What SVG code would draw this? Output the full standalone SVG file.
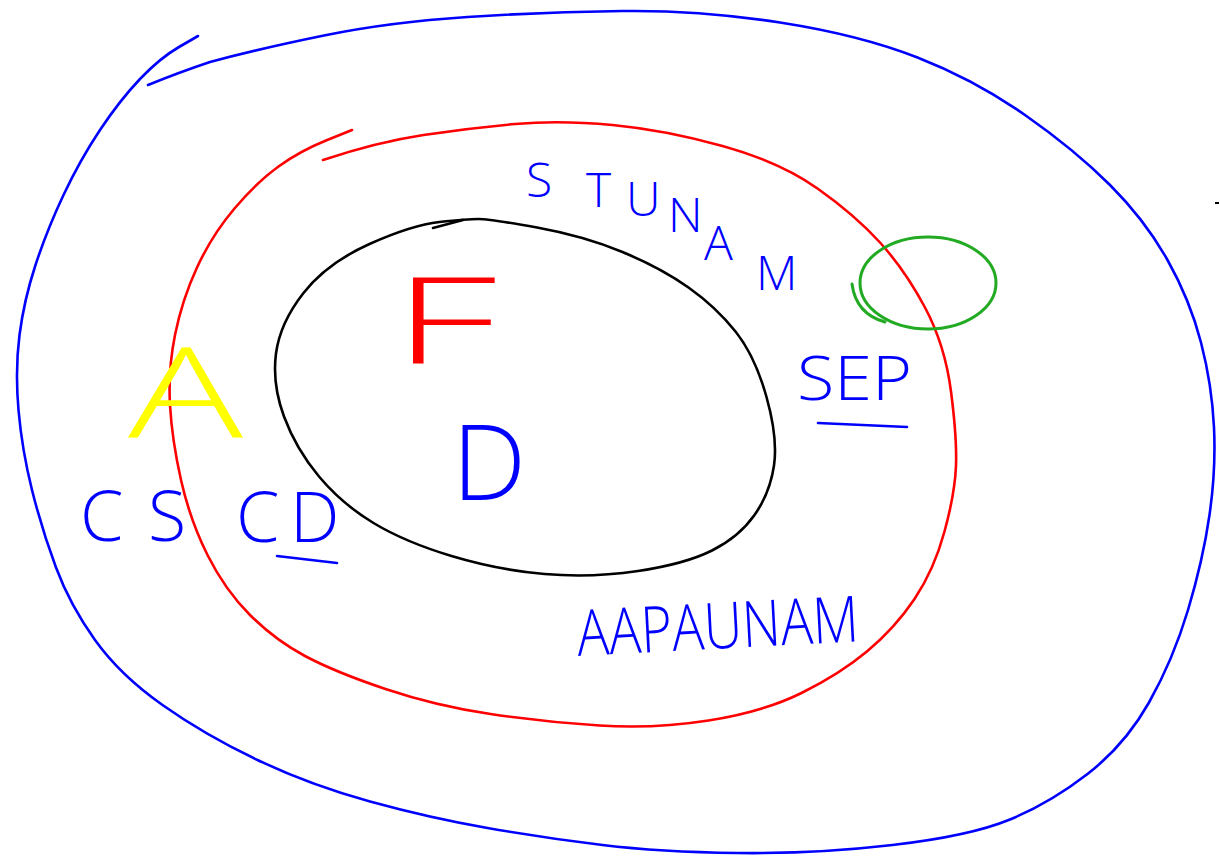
<svg xmlns="http://www.w3.org/2000/svg" width="1220" height="859" viewBox="0 0 1220 859">
<style>
.s{fill:none;stroke-linecap:round;stroke-linejoin:round;stroke-width:2.6}
.b{stroke:#0000ff}.r{stroke:#ff0000}.k{stroke:#000}.g{stroke:#22aa22;stroke-width:3}
.t{font-family:"Open Sans","Liberation Sans",Arial,sans-serif;font-weight:300}
.tb{fill:#0000ff}
</style>
<rect width="1220" height="859" fill="#fff"/>
<g id="outer-blue">
<path class="s b" d="M198,36 L179,47 Q160,58 140,79 Q120,100 100,130 Q80,160 63.5,195 Q47,230 35.5,265 Q24,300 19.5,335 Q15,370 18.5,410 Q22,450 32,490 Q42,530 56,567.5 Q70,605 95,640 Q120,675 162.5,705 Q205,735 257.5,760 Q310,785 370,801.5 Q430,818 487.5,828 Q545,838 602.5,845 Q660,852 737.5,853 Q815,854 892.5,845 Q970,836 1010,819.5 Q1050,803 1087.5,774 Q1125,745 1149,702.5 Q1173,660 1188,610 Q1203,560 1209.5,515 Q1216,470 1214,427.5 Q1212,385 1201,342.5 Q1190,300 1167.5,260 Q1145,220 1110,185 Q1075,150 1025,115 Q975,80 917.5,57.5 Q860,35 780,22.5 Q700,10 622.5,11 Q545,12 467.5,17 Q390,22 324,35.5 Q258,49 210,62 Q180,72 148,85"/>
</g>
<g id="middle-red">
<path class="s r" d="M352,130 L326,140.5 Q300,151 278.5,166.5 Q257,182 234.5,208.5 Q212,235 197,267.5 Q182,300 175,335 Q168,370 170,405 Q172,440 181,480 Q190,520 207.5,555 Q225,590 250,615 Q275,640 305,656 Q335,672 385.5,689 Q436,706 490.5,714 Q545,722 599.5,725.5 Q654,729 708.5,720.5 Q763,712 801.5,693 Q840,674 867.5,651 Q895,628 914.5,599 Q934,570 944.5,531.5 Q955,493 956,465.5 Q957,438 951,391.5 Q945,345 925,307.5 Q905,270 880,242.5 Q855,215 817.5,188.5 Q780,162 722.5,146 Q665,130 612.5,125 Q560,120 515,124 Q470,128 423.5,135 Q377,142 323,160"/>
</g>
<g id="inner-black">
<path class="s k" d="M478.5,219 Q490,219 537,227.5 Q584,236 622.5,252 Q661,268 688.5,287.5 Q716,307 735.5,331.5 Q755,356 766.5,397 Q778,438 774,465.5 Q770,493 754.5,515 Q739,537 712,550.5 Q685,564 638,571 Q591,578 544.5,574 Q498,570 451.5,556 Q405,542 373.5,523 Q342,504 319,476.5 Q296,449 284,416.5 Q272,384 276,353.5 Q280,323 303.5,293 Q327,263 369.5,244 Q412,225 439.5,222 Q467,219 478.5,219"/>
<path class="s k" d="M433,228 L463,220"/>
</g>
<g id="green-circle">
<ellipse class="s g" cx="928" cy="283" rx="68" ry="46"/>
<path class="s g" d="M852,284 Q856,314 885,322"/>
</g>
<g id="labels">
<text class="t tb" font-size="48" x="526 586 626 668 704 756" y="197 207 216 232 260 290">STUNAM</text>
<text class="t tb" font-size="60" x="797" y="400" textLength="115" lengthAdjust="spacingAndGlyphs">SEP</text>
<path class="s b" d="M818,423 L907,427"/>
<text class="t tb" font-size="70" x="80 148" y="541">CS</text>
<text class="t tb" font-size="70" x="236 290" y="542">CD</text>
<path class="s b" d="M277,556 L337,563"/>
<text class="t tb" font-size="105" x="452" y="500">D</text>
<text class="t" font-size="120" x="392" y="363" fill="#ff0000" textLength="105" lengthAdjust="spacingAndGlyphs">F</text>
<text class="t" font-size="125" x="128" y="438" fill="#ffff00" textLength="115" lengthAdjust="spacingAndGlyphs">A</text>
<text class="t tb" font-size="64" x="578" y="656" textLength="282" lengthAdjust="spacingAndGlyphs" transform="rotate(-3 578 656)">AAPAUNAM</text>
</g>
<path d="M1215,203 L1219,203" stroke="#000" stroke-width="2" fill="none"/>
</svg>
